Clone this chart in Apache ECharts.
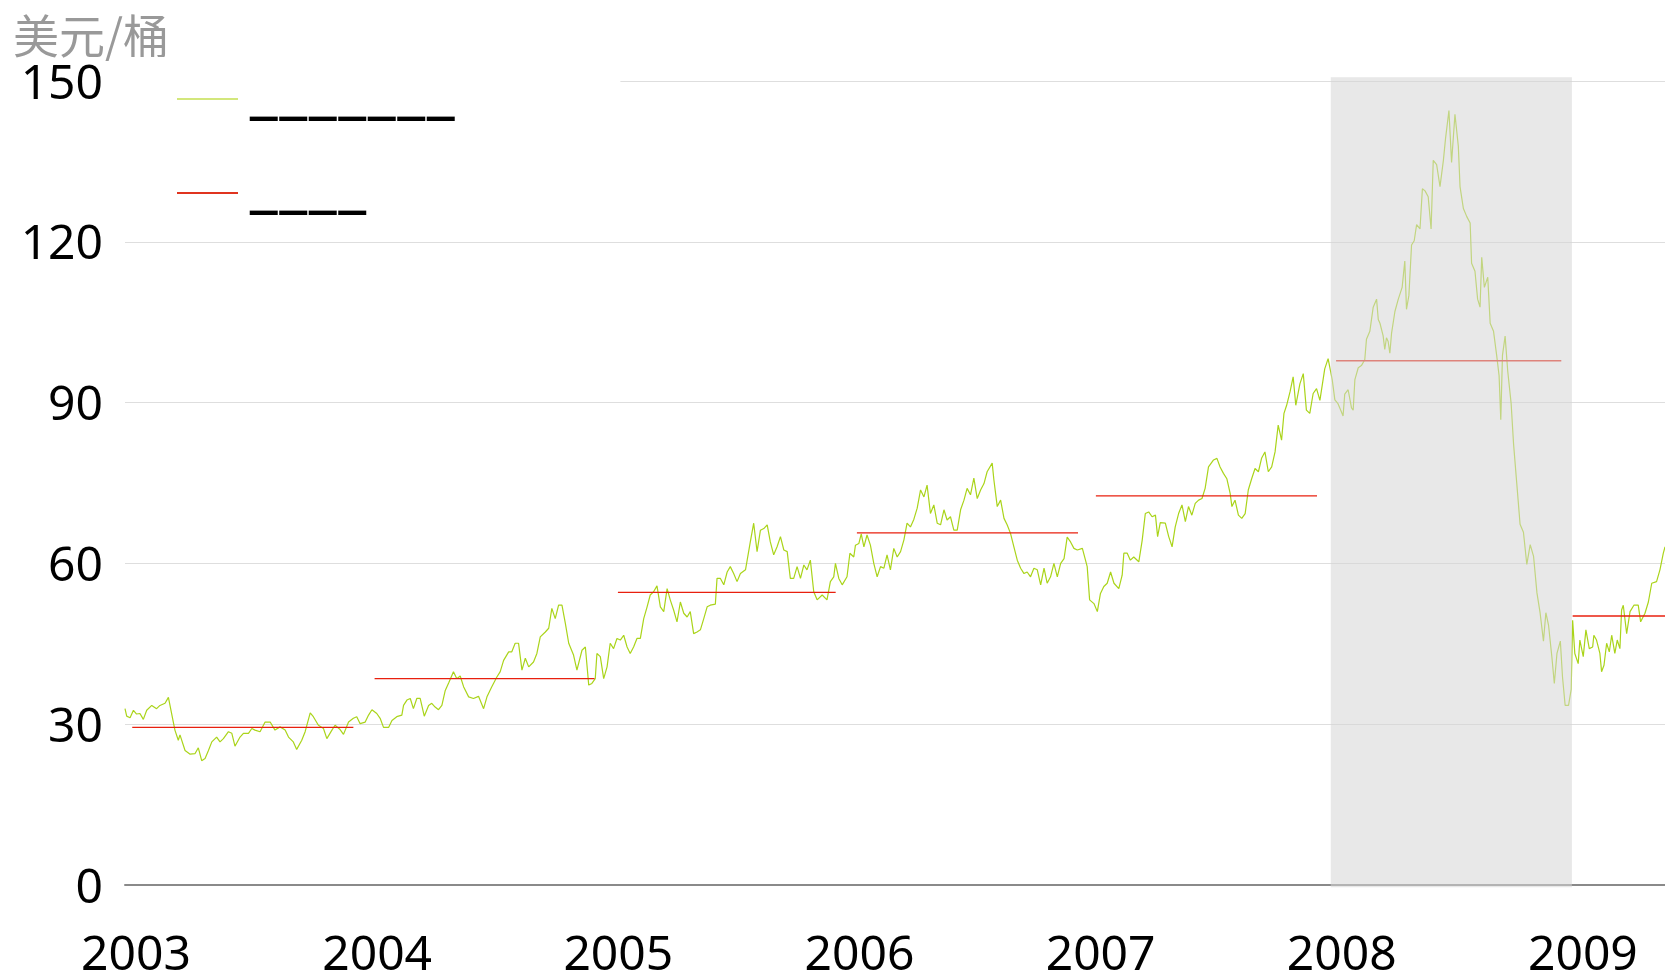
<!DOCTYPE html>
<html>
<head>
    <meta charset="UTF-8">
    <title>油价</title>
    <style>
        html, body { margin: 0; padding: 0; background: #fff; }
        #main { width: 1665px; height: 976px; }
    </style>
</head>
<body>
<div id="main"></div>
<script src="https://cdn.jsdelivr.net/npm/echarts@6/dist/echarts.min.js"></script>
<script type="text/javascript">
    // 年份刻度
    var years = [2003, 2004, 2005, 2006, 2007, 2008, 2009];
    var yTicks = [0, 30, 60, 90, 120, 150];
    var xEnd = 2009.386;

    // 价格：[年内位置, 美元/桶]
    var price2003 = [[0.000,32.9],[0.007,31.5],[0.021,31.2],[0.035,32.6],[0.048,31.9],[0.062,32.0],[0.076,30.9],[0.090,32.6],[0.111,33.5],[0.131,32.9],[0.145,33.5],[0.166,33.9],[0.180,35.0],[0.187,35.0],[0.207,28.9],[0.221,27.0],[0.228,28.0],[0.249,25.1],[0.270,24.4],[0.290,24.5],[0.304,25.6],[0.318,23.2],[0.332,23.6],[0.346,25.1],[0.360,26.7],[0.380,27.6],[0.394,26.7],[0.408,27.3],[0.429,28.6],[0.443,28.3],[0.456,25.9],[0.477,27.6],[0.491,28.3],[0.512,28.3],[0.526,29.2],[0.539,28.9],[0.560,28.6],[0.581,30.4],[0.602,30.4],[0.622,28.9],[0.643,29.5],[0.664,28.9],[0.678,27.6],[0.698,26.7],[0.712,25.3],[0.733,27.0],[0.747,28.6],[0.768,32.1],[0.781,31.4],[0.802,29.8],[0.823,29.2],[0.837,27.3],[0.858,28.9],[0.871,29.8],[0.892,29.0],[0.906,28.1],[0.927,30.4],[0.947,31.1],[0.961,31.4],[0.975,30.1],[0.996,30.4]];
    var price2004 = [[0.010,31.7],[0.024,32.7],[0.044,32.0],[0.058,31.1],[0.072,29.4],[0.093,29.4],[0.107,30.7],[0.127,31.4],[0.148,31.7],[0.155,33.5],[0.169,34.5],[0.183,34.8],[0.196,32.9],[0.210,34.8],[0.224,34.8],[0.241,31.5],[0.259,33.5],[0.272,33.9],[0.286,33.2],[0.300,32.7],[0.314,33.5],[0.328,36.3],[0.342,37.7],[0.362,39.8],[0.376,38.5],[0.390,39.0],[0.404,37.0],[0.425,35.1],[0.445,34.8],[0.466,35.2],[0.487,32.9],[0.501,35.1],[0.521,37.0],[0.542,38.8],[0.556,39.8],[0.570,41.9],[0.591,43.5],[0.604,43.5],[0.618,45.1],[0.632,45.1],[0.646,40.1],[0.660,42.3],[0.674,40.7],[0.694,41.6],[0.708,43.2],[0.722,46.3],[0.743,47.2],[0.757,47.9],[0.770,51.6],[0.784,49.7],[0.798,52.2],[0.812,52.2],[0.826,48.8],[0.840,45.1],[0.860,42.9],[0.874,40.1],[0.895,43.8],[0.909,44.4],[0.923,37.3],[0.936,37.6],[0.950,38.5],[0.957,43.2],[0.971,42.6],[0.985,38.5],[0.999,40.7]];
    var price2005 = [[0.012,45.1],[0.026,44.1],[0.040,46.0],[0.054,45.7],[0.068,46.6],[0.082,44.4],[0.095,43.2],[0.109,44.4],[0.123,46.0],[0.137,46.0],[0.151,49.7],[0.165,51.9],[0.178,54.1],[0.192,54.7],[0.206,55.8],[0.220,51.9],[0.234,51.0],[0.248,55.3],[0.261,53.2],[0.275,51.3],[0.289,49.1],[0.303,52.8],[0.317,50.7],[0.331,50.0],[0.344,51.0],[0.358,46.9],[0.372,47.2],[0.386,47.6],[0.400,49.7],[0.414,51.9],[0.427,52.2],[0.448,52.4],[0.455,57.2],[0.469,57.2],[0.483,56.0],[0.497,58.4],[0.510,59.4],[0.524,58.1],[0.538,56.6],[0.552,58.1],[0.573,58.8],[0.580,60.6],[0.593,64.0],[0.607,67.5],[0.621,62.2],[0.635,66.2],[0.649,66.5],[0.663,67.2],[0.676,64.0],[0.690,61.6],[0.704,63.1],[0.718,65.0],[0.732,62.5],[0.746,62.2],[0.759,57.2],[0.773,57.2],[0.787,59.4],[0.801,57.2],[0.815,59.7],[0.828,58.8],[0.842,60.6],[0.856,54.7],[0.870,53.2],[0.891,54.1],[0.911,53.2],[0.925,56.6],[0.939,57.5],[0.946,60.0],[0.960,57.2],[0.974,56.0],[0.994,57.5]];
    var price2006 = [[0.006,61.9],[0.022,61.2],[0.029,63.4],[0.043,63.7],[0.053,65.5],[0.064,63.1],[0.077,65.3],[0.091,63.4],[0.105,60.0],[0.119,57.5],[0.133,59.4],[0.147,59.1],[0.160,61.6],[0.174,58.8],[0.188,62.8],[0.202,61.2],[0.216,62.2],[0.230,64.4],[0.243,67.5],[0.257,66.8],[0.271,68.2],[0.285,70.3],[0.299,73.7],[0.313,72.4],[0.326,74.6],[0.340,69.3],[0.354,70.9],[0.368,67.5],[0.382,67.2],[0.396,70.0],[0.409,68.1],[0.423,68.7],[0.437,66.2],[0.451,66.2],[0.465,70.0],[0.479,71.8],[0.492,74.0],[0.506,72.8],[0.520,75.9],[0.534,72.1],[0.548,73.7],[0.562,74.9],[0.575,77.1],[0.596,78.7],[0.603,75.6],[0.617,70.6],[0.631,71.8],[0.645,68.4],[0.658,67.2],[0.672,65.6],[0.686,63.1],[0.700,60.6],[0.714,59.1],[0.728,58.1],[0.741,58.4],[0.755,57.5],[0.769,59.1],[0.783,58.8],[0.797,56.0],[0.811,59.1],[0.824,56.3],[0.838,57.5],[0.852,60.0],[0.866,57.5],[0.880,60.0],[0.894,60.9],[0.907,64.9],[0.921,64.0],[0.935,62.8],[0.949,62.5],[0.970,62.8],[0.990,59.4]];
    var price2007 = [[0.000,53.2],[0.018,52.5],[0.032,51.0],[0.045,54.4],[0.059,55.7],[0.073,56.3],[0.087,58.4],[0.101,56.3],[0.121,55.3],[0.135,57.8],[0.142,61.9],[0.156,61.9],[0.169,60.6],[0.183,61.2],[0.204,60.3],[0.218,64.3],[0.231,69.3],[0.245,69.6],[0.259,68.7],[0.273,69.0],[0.282,65.0],[0.293,67.6],[0.314,67.5],[0.328,65.0],[0.342,63.1],[0.355,66.8],[0.369,69.3],[0.383,70.9],[0.397,67.8],[0.410,70.6],[0.424,69.0],[0.438,71.2],[0.452,71.8],[0.466,72.1],[0.479,74.0],[0.493,78.0],[0.514,79.3],[0.528,79.6],[0.541,78.0],[0.555,76.8],[0.569,75.8],[0.583,73.0],[0.590,70.6],[0.603,71.8],[0.617,69.0],[0.631,68.4],[0.645,69.3],[0.658,73.7],[0.672,75.8],[0.686,77.7],[0.700,77.1],[0.713,79.6],[0.727,80.8],[0.741,77.1],[0.755,78.0],[0.769,80.8],[0.782,85.8],[0.796,83.0],[0.806,88.0],[0.817,89.5],[0.831,92.0],[0.844,94.8],[0.855,89.5],[0.872,93.5],[0.886,95.4],[0.899,88.6],[0.913,88.0],[0.927,91.7],[0.941,92.6],[0.955,90.4],[0.975,96.3],[0.989,98.2]];
    var price2008 = [[0.006,94.3],[0.017,90.5],[0.030,89.8],[0.044,88.3],[0.051,87.5],[0.058,91.6],[0.072,92.4],[0.086,89.0],[0.093,88.6],[0.100,94.3],[0.114,96.5],[0.127,96.9],[0.141,98.0],[0.148,101.8],[0.162,103.3],[0.176,107.8],[0.190,109.3],[0.197,105.5],[0.204,104.8],[0.217,102.5],[0.224,99.9],[0.231,102.1],[0.238,101.4],[0.245,99.2],[0.252,102.9],[0.266,107.0],[0.280,109.3],[0.296,111.5],[0.307,116.4],[0.314,107.4],[0.324,110.0],[0.335,119.4],[0.346,120.2],[0.356,123.2],[0.370,122.4],[0.380,129.9],[0.391,129.5],[0.404,128.4],[0.416,122.4],[0.425,135.2],[0.439,134.4],[0.453,130.3],[0.467,135.2],[0.476,139.3],[0.490,144.5],[0.501,134.8],[0.515,143.8],[0.529,137.8],[0.536,130.3],[0.550,126.2],[0.564,124.7],[0.578,123.5],[0.584,116.0],[0.598,114.5],[0.609,109.3],[0.619,107.8],[0.626,117.1],[0.637,111.5],[0.651,113.4],[0.661,104.8],[0.675,103.3],[0.688,98.8],[0.698,95.0],[0.705,86.8],[0.712,98.8],[0.723,102.4],[0.734,95.8],[0.748,89.8],[0.758,82.3],[0.771,75.1],[0.785,67.3],[0.799,65.8],[0.813,59.8],[0.827,63.5],[0.841,61.3],[0.855,54.5],[0.868,50.8],[0.882,45.5],[0.892,50.8],[0.903,48.5],[0.917,42.5],[0.927,37.6],[0.938,43.2],[0.952,45.5],[0.961,38.8],[0.972,33.5],[0.986,33.5],[0.997,36.5]];
    var price2009 = [[0.003,49.4],[0.012,43.2],[0.026,41.3],[0.033,45.7],[0.047,42.6],[0.058,47.6],[0.072,44.1],[0.086,44.4],[0.091,46.6],[0.102,45.7],[0.116,43.2],[0.123,39.8],[0.133,41.0],[0.144,45.1],[0.155,43.5],[0.165,46.6],[0.178,43.2],[0.188,45.7],[0.199,44.1],[0.206,51.3],[0.213,52.2],[0.227,46.9],[0.241,51.0],[0.257,52.2],[0.275,52.2],[0.285,49.1],[0.303,50.7],[0.317,52.8],[0.331,56.3],[0.351,56.6],[0.365,58.8],[0.379,61.9],[0.386,63.1]];

    // 年均价及其起止位置
    var avgValues = [29.4, 38.5, 54.6, 65.7, 72.6, 97.8, 50.2];
    var avgStart = [2003.030, 2004.035, 2005.044, 2006.035, 2007.026, 2008.022, 2009.003];
    var avgEnd = [2003.947, 2004.947, 2005.947, 2006.952, 2007.943, 2008.956, 2009.386];

    // 阴影区间 (2008)
    var shadeFrom = 2008, shadeTo = 2009;

    var priceName = '_______';
    var avgName = '____';

    var yearly = [price2003, price2004, price2005, price2006, price2007, price2008, price2009];
    var priceData = [];
    yearly.forEach(function (arr, i) {
        arr.forEach(function (p) {
            priceData.push([years[i] + p[0], p[1]]);
        });
    });

    var series = [{
        name: priceName,
        type: 'line',
        data: priceData,
        showSymbol: false,
        z: 2,
        lineStyle: {color: '#aad41a', width: 1.2},
        itemStyle: {color: '#aad41a'}
    }];
    avgValues.forEach(function (v, i) {
        series.push({
            name: avgName,
            type: 'line',
            data: [[avgStart[i], v], [avgEnd[i], v]],
            showSymbol: false,
            z: 3,
            lineStyle: {color: '#e8200f', width: 1.4},
            itemStyle: {color: '#e8200f'}
        });
    });
    // 2008 年的灰色遮罩，画在折线上方
    series.push({
        type: 'custom',
        z: 10,
        silent: true,
        clip: false,
        data: [[shadeFrom, shadeTo, -0.4, 150.7]],
        renderItem: function (params, api) {
            var p0 = api.coord([api.value(0), api.value(3)]);
            var p1 = api.coord([api.value(1), api.value(2)]);
            return {
                type: 'rect',
                shape: {x: p0[0], y: p0[1], width: p1[0] - p0[0], height: p1[1] - p0[1]},
                style: {fill: 'rgba(214,214,214,0.55)'}
            };
        }
    });

    var chart = echarts.init(document.getElementById('main'));
    var option = {
        animation: false,
        backgroundColor: '#fff',
        grid: {left: 125, right: 0, top: 81, bottom: 91, outerBoundsMode: 'none'},
        legend: {
            orient: 'vertical',
            left: 125,
            top: 57,
            padding: [10, 165, 10, 52],
            backgroundColor: '#fff',
            itemGap: 30,
            itemWidth: 61,
            itemHeight: 2,
            icon: 'rect',
            formatter: function (name) {
                return '{u|' + name + '}';
            },
            textStyle: {
                color: '#000',
                rich: {
                    u: {
                        fontSize: 52,
                        lineHeight: 52,
                        fontFamily: 'Noto Sans CJK SC',
                        fontWeight: 'bold',
                        color: '#000',
                        padding: [0, 0, 12, 6]
                    }
                }
            },
            data: [
                {name: priceName, itemStyle: {color: '#d3e77c'}},
                {name: avgName, itemStyle: {color: '#e0341f'}}
            ]
        },
        xAxis: {
            type: 'value',
            min: years[0],
            max: xEnd,
            interval: 1,
            splitLine: {show: false},
            axisTick: {show: false},
            axisLine: {onZero: false, lineStyle: {color: '#8a8a8a', width: 2}},
            axisLabel: {
                margin: 47,
                padding: [0, 0, 0, 22],
                fontSize: 48,
                fontFamily: 'Noto Sans',
                color: '#000',
                formatter: function (v) {
                    return years.indexOf(Math.round(v)) >= 0 && Math.abs(v - Math.round(v)) < 1e-6 ? String(Math.round(v)) : '';
                }
            }
        },
        yAxis: {
            type: 'value',
            min: yTicks[0],
            max: yTicks[yTicks.length - 1],
            interval: 30,
            name: '美元/桶',
            nameGap: 22,
            nameTextStyle: {
                fontSize: 46,
                fontFamily: 'Noto Sans CJK SC',
                color: '#999',
                padding: [0, 68, 0, 0]
            },
            axisLine: {show: false},
            axisTick: {show: false},
            axisLabel: {margin: 22, fontSize: 48, fontFamily: 'Noto Sans', color: '#000', verticalAlign: 'top', lineHeight: 8},
            splitLine: {lineStyle: {color: '#dedede', width: 1}}
        },
        series: series
    };
    chart.setOption(option);
</script>
</body>
</html>
